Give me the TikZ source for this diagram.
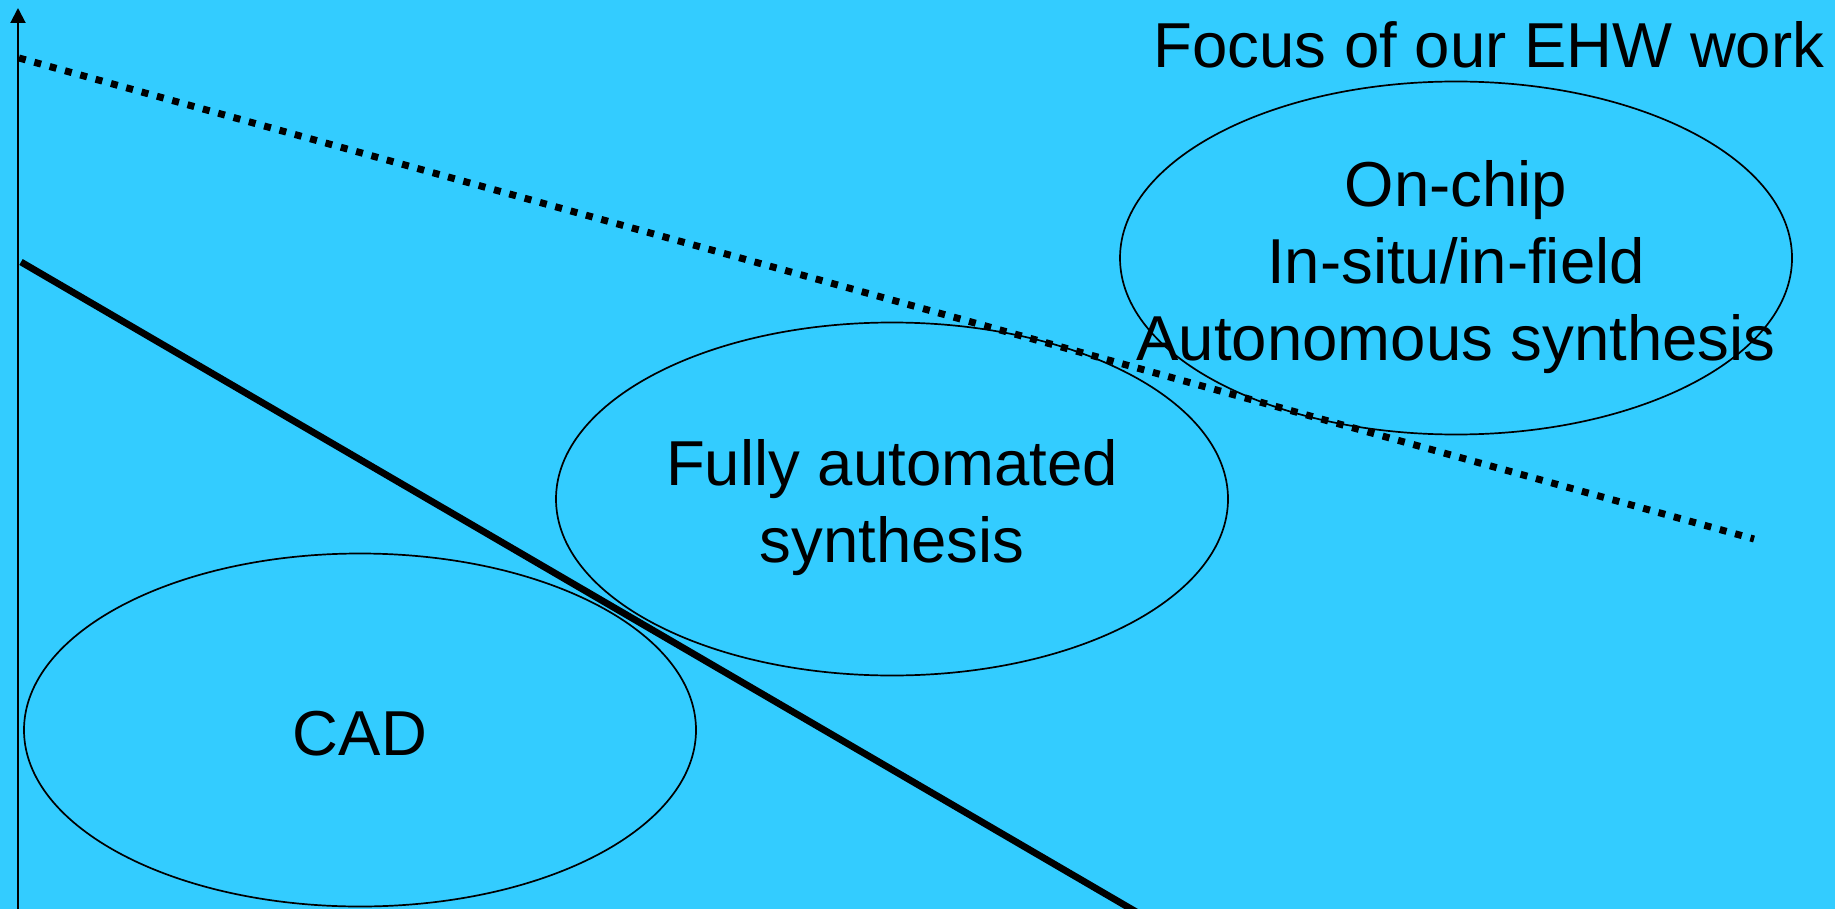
\documentclass[tikz,border=0pt]{standalone}
\usepackage{fontspec}
\setmainfont{Liberation Sans}
\usetikzlibrary{shapes.geometric,arrows.meta}
\definecolor{skyback}{RGB}{51,204,255}
\begin{document}
\begin{tikzpicture}[x=0.5pt,y=-0.5pt,
  region/.style={draw=black,line width=0.85pt,ellipse,inner sep=0pt,
    minimum width=336pt,minimum height=176.5pt},
  lbl/.style={inner sep=0pt,anchor=base,font=\fontsize{31.75}{38}\selectfont,text=black},
  trendsolid/.style={line width=3.4pt,line cap=butt},
  trenddotted/.style={line width=3.5pt,dash pattern=on 3.5pt off 4.45pt,line cap=butt}]
  % canvas
  \fill[skyback] (0,0) rectangle (1835,909);
  \useasboundingbox (0,0) rectangle (1835,909);
  \begin{scope}
    \clip (0,0) rectangle (1835,909);
    % vertical axis
    \coordinate (axisBase) at (18,912);
    \coordinate (axisTip) at (18,8);
    \draw[line width=1pt,-{Triangle[width=7.5pt,length=7.5pt]}] (axisBase) -- (axisTip);
    % regions
    \node[region] (cad) at (360,730) {};
    \node[region] (fully) at (892,499) {};
    \node[region] (onchip) at (1456,258) {};
    % trend lines
    \coordinate (solA) at (21,262);
    \coordinate (solB) at (1145,917);
    \draw[trendsolid] (solA) -- (solB);
    \coordinate (dotA) at (19,58);
    \coordinate (dotB) at (1754,539);
    \draw[trenddotted] (dotA) -- (dotB);
  \end{scope}
  % labels
  \node[lbl] (focus) at (1489,68) {Focus of our EHW work};
  \node[lbl] (onchipA) at (1456,207) {On-chip};
  \node[lbl] (onchipB) at (1456,284) {In-situ/in-field};
  \node[lbl] (onchipC) at (1456,360) {Autonomous synthesis};
  \node[lbl] (fullyA) at (892,485) {Fully automated};
  \node[lbl] (fullyB) at (892,562) {synthesis};
  \node[lbl] (cadA) at (360,755) {CAD};
\end{tikzpicture}
\end{document}
